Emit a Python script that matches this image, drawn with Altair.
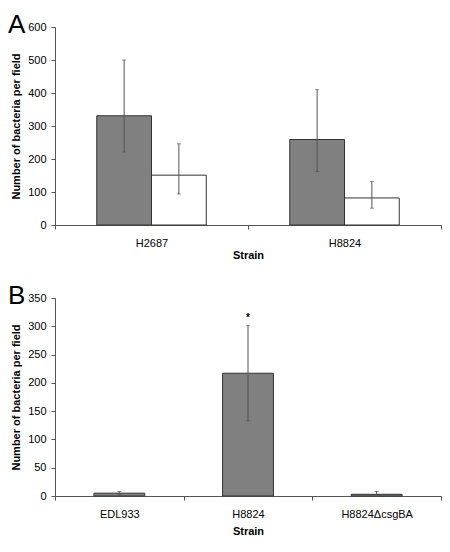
import altair as alt
import pandas as pd

# Panel A data
strains_a = ["H2687", "H2687", "H8824", "H8824"]
series_a = ["S1", "S2", "S1", "S2"]
means_a = [331, 151, 259, 82]
lower_a = [221, 94, 162, 51]
upper_a = [500, 246, 410, 132]

# Panel B data
strains_b = ["EDL933", "H8824", "H8824\u0394csgBA"]
means_b = [5, 217, 3]
lower_b = [2, 133, 0]
upper_b = [8, 301, 8]
marks_b = ["", "*", ""]

ticks_a = [0, 100, 200, 300, 400, 500, 600]
ticks_b = [0, 50, 100, 150, 200, 250, 300, 350]

FONT = "Liberation Sans"
AXC = "#555555"
ERRC = "#555555"

df_a = pd.DataFrame({"strain": strains_a, "series": series_a, "mean": means_a,
                     "lo": lower_a, "hi": upper_a})
df_b = pd.DataFrame({"strain": strains_b, "mean": means_b, "lo": lower_b,
                     "hi": upper_b, "mark": marks_b})

ytitle = "Number of bacteria per field"

x_a = alt.X("strain:N", sort=["H2687", "H8824"],
            scale=alt.Scale(paddingInner=0, paddingOuter=0),
            axis=alt.Axis(title="Strain", labelAngle=0, tickBand="extent", titlePadding=1))
xo_a = alt.XOffset("series:N", scale=alt.Scale(paddingInner=0, paddingOuter=0.763))
sc_a = alt.Scale(domain=[0, 600])
ax_a = alt.Axis(title=ytitle, values=ticks_a)


def ya(f):
    return alt.Y(f, scale=sc_a, axis=ax_a)


base_a = alt.Chart(df_a)
bars_a = base_a.mark_bar(stroke="#333333", strokeWidth=1).encode(
    x=x_a, xOffset=xo_a, y=ya("mean:Q"),
    color=alt.Color("series:N", scale=alt.Scale(domain=["S1", "S2"], range=["#808080", "#ffffff"]), legend=None),
)
rule_a = base_a.mark_rule(color=ERRC, strokeWidth=1).encode(
    x=x_a, xOffset=xo_a, y=ya("lo:Q"), y2="hi:Q")
cap_hi_a = base_a.mark_tick(color=ERRC, size=4, thickness=1).encode(x=x_a, xOffset=xo_a, y=ya("hi:Q"))
cap_lo_a = base_a.mark_tick(color=ERRC, size=4, thickness=1).encode(x=x_a, xOffset=xo_a, y=ya("lo:Q"))
letter_a = alt.Chart(pd.DataFrame({"p": ["A"]})).mark_text(
    font=FONT, fontSize=26, align="left", baseline="alphabetic", color="#000").encode(
    text="p:N", x=alt.value(-47), y=alt.value(6))

panel_a = alt.layer(bars_a, rule_a, cap_hi_a, cap_lo_a, letter_a).properties(width=386, height=198)

x_b = alt.X("strain:N", sort=strains_b,
            scale=alt.Scale(paddingInner=0, paddingOuter=0),
            axis=alt.Axis(title="Strain", labelAngle=0, tickBand="extent", titlePadding=6))
sc_b = alt.Scale(domain=[0, 350])
ax_b = alt.Axis(title=ytitle, values=ticks_b)


def yb(f):
    return alt.Y(f, scale=sc_b, axis=ax_b)


base_b = alt.Chart(df_b)
bars_b = base_b.mark_bar(color="#808080", stroke="#333333", strokeWidth=1,
                         width=alt.RelativeBandSize(0.395)).encode(x=x_b, y=yb("mean:Q"))
rule_b = base_b.mark_rule(color=ERRC, strokeWidth=1).encode(x=x_b, y=yb("lo:Q"), y2="hi:Q")
cap_hi_b = base_b.mark_tick(color=ERRC, size=4, thickness=1).encode(x=x_b, y=yb("hi:Q"))
cap_lo_b = base_b.mark_tick(color=ERRC, size=4, thickness=1).encode(x=x_b, y=yb("lo:Q"))
star_b = base_b.mark_text(font=FONT, fontSize=10, fontWeight="bold", baseline="bottom",
                          dy=-3, color="#000").encode(x=x_b, y=yb("hi:Q"), text="mark:N")
letter_b = alt.Chart(pd.DataFrame({"p": ["B"]})).mark_text(
    font=FONT, fontSize=26, align="left", baseline="alphabetic", color="#000").encode(
    text="p:N", x=alt.value(-47), y=alt.value(6))
panel_b = alt.layer(bars_b, rule_b, cap_hi_b, cap_lo_b, star_b, letter_b).properties(width=386, height=198)

chart = alt.vconcat(panel_a, panel_b, spacing=23).properties(
    padding={"left": 0, "top": 4, "right": 0, "bottom": 0}
).configure_view(stroke=None).configure_axis(
    labelFont=FONT, titleFont=FONT, labelFontSize=11, titleFontSize=11,
    titleFontWeight="bold", labelColor="#000", titleColor="#000",
    domainColor=AXC, tickColor=AXC, tickSize=4, grid=False,
).configure_axisY(labelPadding=5, titlePadding=6).configure_axisX(labelPadding=8)

chart.save("out.html", embed_options={"renderer": "svg", "actions": False})
